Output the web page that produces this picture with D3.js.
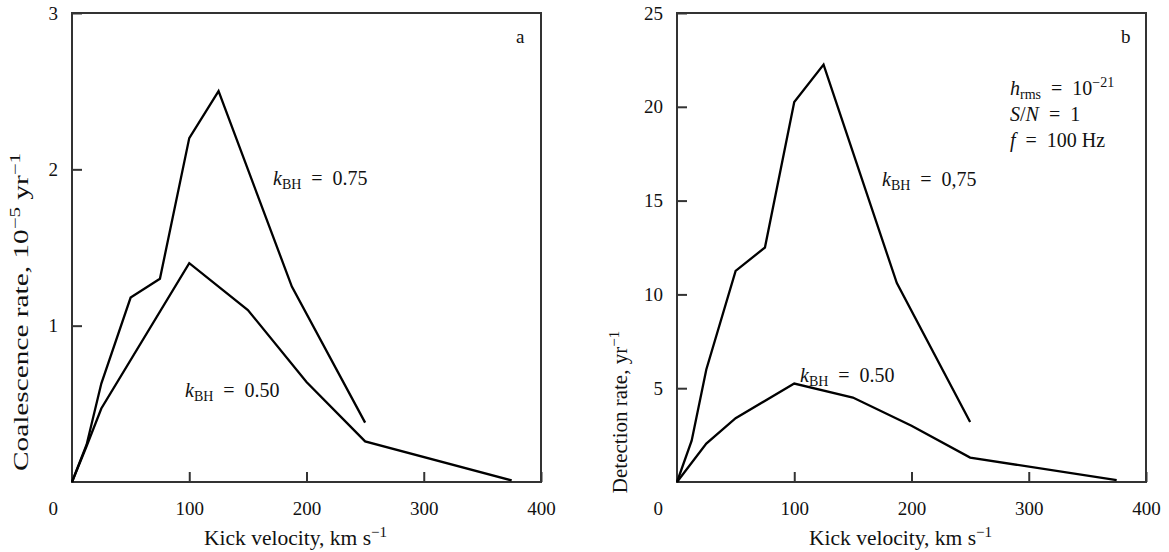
<!DOCTYPE html>
<html>
<head>
<meta charset="utf-8">
<script src="https://cdn.jsdelivr.net/npm/d3@7"></script>
<style>
  body { margin: 0; background: #fff; }
  svg, svg text { font-family: "Times New Roman", "Liberation Serif", "DejaVu Serif", serif; }
  svg text { fill: #111; }
</style>
</head>
<body>
<svg id="chart" width="1169" height="552"></svg>
<script>
// panel a: coalescence rate, 10^-5 yr^-1
const velA75 = [0, 12.5, 25, 50, 75, 100, 125, 187.5, 250];
const rateA75 = [0, 0.24, 0.63, 1.18, 1.3, 2.2, 2.5, 1.25, 0.38];
const velA50 = [0, 12.5, 25, 100, 150, 200, 250, 375];
const rateA50 = [0, 0.23, 0.47, 1.4, 1.1, 0.64, 0.26, 0.01];

// panel b: detection rate, yr^-1
const velB75 = [0, 12.5, 25, 50, 75, 100, 125, 187.5, 250];
const rateB75 = [0, 2.2, 6.0, 11.25, 12.5, 20.25, 22.25, 10.6, 3.2];
const velB50 = [0, 25, 50, 100, 150, 200, 250, 375];
const rateB50 = [0, 2.05, 3.4, 5.25, 4.5, 3.0, 1.3, 0.1];

const xTicks = [100, 200, 300, 400];
const yTicksA = [1, 2, 3];
const yTicksB = [5, 10, 15, 20, 25];

const svg = d3.select("#chart")
  .attr("font-family", "'Times New Roman', 'Liberation Serif', serif");

function drawPanel(left, yMax, yTicks, series) {
  const top = 13, size = 469;
  const g = svg.append("g").attr("transform", "translate(" + left + "," + top + ")");
  const x = d3.scaleLinear().domain([0, 400]).range([0, size]);
  const y = d3.scaleLinear().domain([0, yMax]).range([size, 0]);

  const xa = g.append("g")
    .attr("transform", "translate(0," + size + ")")
    .call(d3.axisBottom(x).tickValues(xTicks).tickFormat(d3.format("d"))
      .tickSize(-10).tickPadding(19.5));
  const ya = g.append("g")
    .call(d3.axisLeft(y).tickValues(yTicks).tickFormat(d3.format("d"))
      .tickSize(-10).tickPadding(14));
  [xa, ya].forEach(a => {
    a.select(".domain").remove();
    a.attr("font-family", "'Times New Roman', 'Liberation Serif', serif").attr("font-size", 19);
    a.selectAll("line").attr("stroke", "#333").attr("stroke-width", 2);
    a.selectAll("text").style("fill", "#111");
  });

  // corner zero
  g.append("text")
    .attr("x", -14).attr("y", size + 33)
    .attr("text-anchor", "end").attr("font-size", 19)
    .text("0");

  g.append("rect")
    .attr("width", size).attr("height", size)
    .attr("fill", "none").attr("stroke", "#333").attr("stroke-width", 2);

  const line = d3.line().x(d => x(d[0])).y(d => y(d[1]));
  series.forEach(s => {
    g.append("path")
      .datum(d3.zip(s.vel, s.rate))
      .attr("d", line)
      .attr("fill", "none")
      .attr("stroke", "#000")
      .attr("stroke-width", 2.3)
      .attr("stroke-linejoin", "miter");
  });

  g.append("text")
    .attr("x", size / 2 - 11).attr("y", size + 63)
    .attr("text-anchor", "middle").attr("font-size", 21.5)
    .call(t => {
      t.append("tspan").text("Kick velocity, km s");
      t.append("tspan").attr("dy", -8).attr("font-size", 15).text("\u22121");
    });
  return g;
}

function kLabel(g, x0, y0, val) {
  const t = g.append("text").attr("x", x0).attr("y", y0).attr("font-size", 20);
  t.append("tspan").attr("font-style", "italic").text("k");
  t.append("tspan").attr("dy", 4).attr("font-size", 14).text("BH");
  t.append("tspan").attr("dy", -4).text("\u2002=\u2002" + val);
}

const gA = drawPanel(72, 3, yTicksA, [
  { vel: velA75, rate: rateA75 },
  { vel: velA50, rate: rateA50 }
]);
const gB = drawPanel(677, 25, yTicksB, [
  { vel: velB75, rate: rateB75 },
  { vel: velB50, rate: rateB50 }
]);

// y titles
svg.append("text")
  .attr("transform", "translate(28,312) rotate(-90)")
  .attr("text-anchor", "middle").attr("font-size", 21)
  .attr("textLength", 318).attr("lengthAdjust", "spacingAndGlyphs")
  .call(t => {
    t.append("tspan").text("Coalescence rate, 10");
    t.append("tspan").attr("dy", -8).attr("font-size", 15).text("\u22125");
    t.append("tspan").attr("dy", 8).text(" yr");
    t.append("tspan").attr("dy", -8).attr("font-size", 15).text("\u22121");
  });
svg.append("text")
  .attr("transform", "translate(627,412) rotate(-90)")
  .attr("text-anchor", "middle").attr("font-size", 21)
  .call(t => {
    t.append("tspan").text("Detection rate, yr");
    t.append("tspan").attr("dy", -8).attr("font-size", 15).text("\u22121");
  });

// panel letters
gA.append("text").attr("x", 444).attr("y", 30).attr("font-size", 19).text("a");
gB.append("text").attr("x", 444).attr("y", 30).attr("font-size", 19).text("b");

// curve labels
kLabel(gA, 201, 172, "0.75");
kLabel(gA, 113, 384, "0.50");
kLabel(gB, 205, 173, "0,75");
kLabel(gB, 123, 369, "0.50");

// conditions, panel b
const cond = gB.append("g").attr("font-size", 20);
const c1 = cond.append("text").attr("x", 333).attr("y", 82);
c1.append("tspan").attr("font-style", "italic").text("h");
c1.append("tspan").attr("dy", 4).attr("font-size", 14).text("rms");
c1.append("tspan").attr("dy", -4).text("\u2002=\u200210");
c1.append("tspan").attr("dy", -8).attr("font-size", 14).text("\u221221");
const c2 = cond.append("text").attr("x", 333).attr("y", 108);
c2.append("tspan").attr("font-style", "italic").text("S");
c2.append("tspan").text("/");
c2.append("tspan").attr("font-style", "italic").text("N");
c2.append("tspan").text("\u2002=\u20021");
const c3 = cond.append("text").attr("x", 333).attr("y", 134);
c3.append("tspan").attr("font-style", "italic").text("f");
c3.append("tspan").text("\u2002=\u2002100 Hz");
</script>
</body>
</html>
